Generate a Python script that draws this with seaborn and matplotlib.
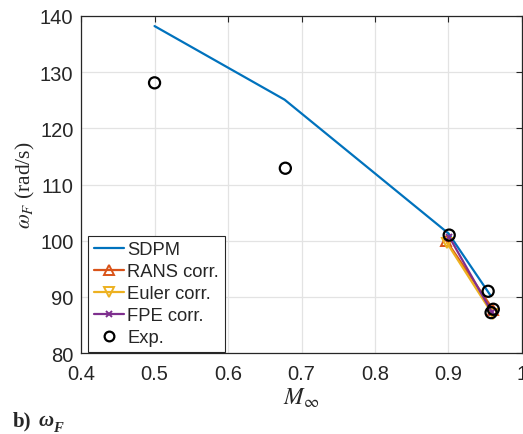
import seaborn as sns
import matplotlib.pyplot as plt
from matplotlib.lines import Line2D

# flutter frequency vs Mach number
sdpm_mach = [0.5, 0.677, 0.9, 0.957]
sdpm_freq = [138.2, 125.1, 101.3, 90.3]

rans_mach = [0.897, 0.961]
rans_freq = [100.0, 87.7]

euler_mach = [0.898, 0.960]
euler_freq = [99.6, 86.9]

fpe_mach = [0.901, 0.959]
fpe_freq = [100.7, 87.3]

exp_mach = [0.5, 0.678, 0.901, 0.954, 0.958, 0.961]
exp_freq = [128.1, 112.9, 101.0, 91.0, 87.2, 87.8]

sns.set_style("whitegrid")
plt.rcParams["font.family"] = ["Liberation Sans", "DejaVu Sans"]
plt.rcParams["mathtext.fontset"] = "stix"

fig = plt.figure(figsize=(5.23, 4.35), dpi=100)
ax = fig.add_axes([0.155, 0.186, 0.843, 0.775])

blue, orange, yellow, purple = "#0072BD", "#D95319", "#EDB120", "#7E2F8E"

sns.lineplot(x=sdpm_mach, y=sdpm_freq, color=blue, lw=1.6, sort=False, ax=ax)
sns.lineplot(x=rans_mach, y=rans_freq, color=orange, lw=1.6, marker="^",
             ms=7, mfc="none", mec=orange, mew=1.4, sort=False, ax=ax)
sns.lineplot(x=euler_mach, y=euler_freq, color=yellow, lw=1.6, marker="v",
             ms=7, mfc="none", mec=yellow, mew=1.4, sort=False, ax=ax)
sns.lineplot(x=fpe_mach, y=fpe_freq, color=purple, lw=1.6, marker="x",
             ms=5, mec=purple, mew=1.4, sort=False, ax=ax)
sns.scatterplot(x=exp_mach, y=exp_freq, marker="o", s=64, facecolor="none",
                edgecolor="black", linewidth=1.6, ax=ax, zorder=5)

ax.set_xlim(0.4, 1.0)
ax.set_ylim(80, 140)
ax.set_xticks([0.4, 0.5, 0.6, 0.7, 0.8, 0.9, 1.0])
ax.set_xticklabels(["0.4", "0.5", "0.6", "0.7", "0.8", "0.9", "1"])
ax.set_yticks(range(80, 141, 10))
ax.tick_params(labelsize=14.5, direction="in", length=4, width=0.8,
               top=True, right=True, colors="#262626")
ax.tick_params(axis="y", pad=5.5)
ax.tick_params(axis="x", pad=8)
ax.grid(True, color="#e3e3e3", lw=0.9)
for s in ax.spines.values():
    s.set_color("#262626")
    s.set_linewidth(0.9)

ax.set_xlabel(r"$M_\infty$", fontsize=17, labelpad=2)
ax.set_ylabel(r"$\omega_F$ (rad/s)", fontsize=15.5, family="Liberation Serif",
              labelpad=2)

handles = [
    Line2D([], [], color=blue, lw=1.6),
    Line2D([], [], color=orange, lw=1.6, marker="^", ms=7, mfc="none", mew=1.4),
    Line2D([], [], color=yellow, lw=1.6, marker="v", ms=7, mfc="none", mew=1.4),
    Line2D([], [], color=purple, lw=1.6, marker="x", ms=5, mew=1.4),
    Line2D([], [], color="black", lw=0, marker="o", ms=7, mfc="none", mew=1.6),
]
labels = ["SDPM", "RANS corr.", "Euler corr.", "FPE corr.", "Exp."]
leg = ax.legend(handles, labels, loc="lower left",
                bbox_to_anchor=(7 / 441, 1.5 / 337), borderaxespad=0,
                fontsize=13.2, frameon=True, fancybox=False,
                edgecolor="#262626", framealpha=1, handlelength=1.65,
                handletextpad=0.2, labelspacing=0.27, borderpad=0.3)
leg.get_frame().set_linewidth(0.8)

fig.text(13 / 523, 0.02, "b)", fontsize=15, weight="bold",
         family="Liberation Serif")
fig.text(39 / 523, 0.02, "ω", fontsize=15, weight="bold", style="italic",
         family="Liberation Serif")
fig.text(53 / 523, 0.008, "F", fontsize=10.5, weight="bold", style="italic",
         family="Liberation Serif")

fig.savefig("out.png", dpi=100)
